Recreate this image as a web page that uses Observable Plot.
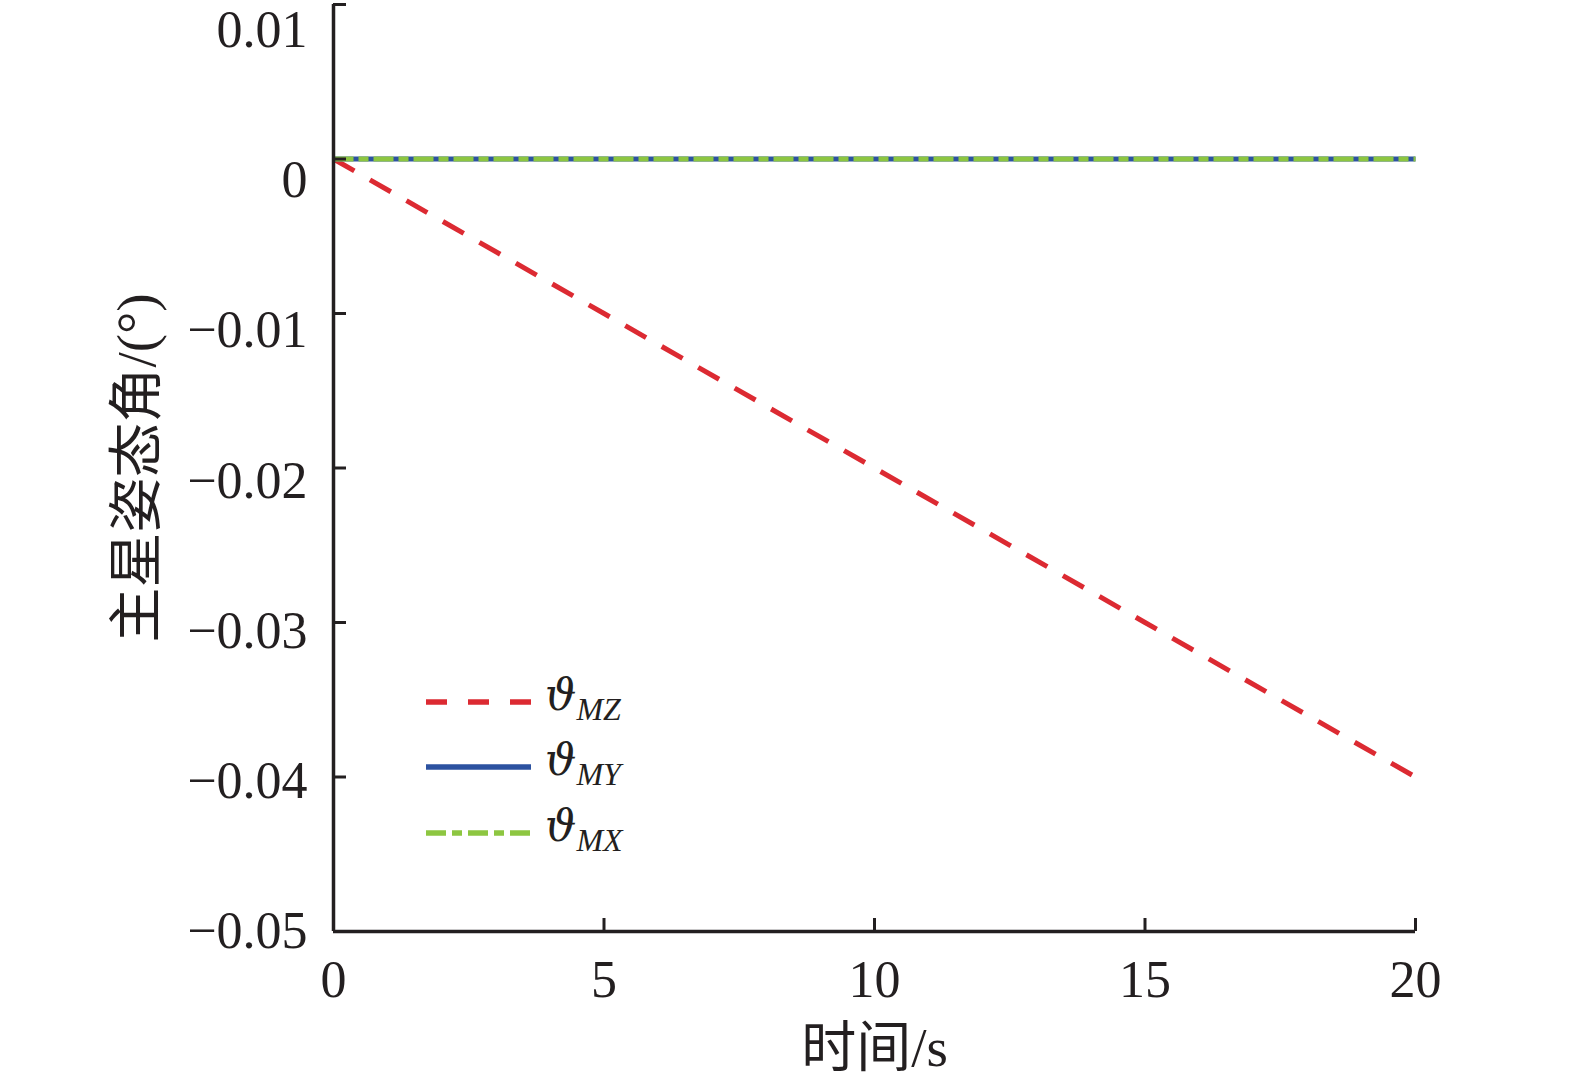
<!DOCTYPE html>
<html>
<head>
<meta charset="utf-8">
<script src="https://cdn.jsdelivr.net/npm/d3@7"></script>
<script src="https://cdn.jsdelivr.net/npm/@observablehq/plot@0.6"></script>
<style>
  html, body { margin: 0; padding: 0; background: #fff; }
  #chart svg { display: block; }
</style>
</head>
<body>
<div id="chart"></div>
<script>
// ---- data ----
const time = [0, 5, 10, 15, 20];
const thetaMZ = [0, -0.01, -0.02, -0.03, -0.04];
const thetaMY = [0, 0, 0, 0, 0];
const thetaMX = [0, 0, 0, 0, 0];
const xTicks = [0, 5, 10, 15, 20];
const yTicks = [0.01, 0, -0.01, -0.02, -0.03, -0.04, -0.05];
const seriesNames = ["MZ", "MY", "MX"];
const xLabel = "时间/s";
const yLabel = "主星姿态角/(°)";

// ---- layout / style ----
const W = 1575, H = 1085;
const mL = 333, mR = 160, mT = 4, mB = 154;
const plotW = W - mL - mR, plotH = H - mT - mB;
const ink = "#231f20";
const colors = { MZ: "#dc2a32", MY: "#2c52a0", MX: "#8dc641" };
const dashes = { MZ: "24,18", MY: null, MX: "20,5,10,5" };
const serif = "'Liberation Serif', 'Times New Roman', serif";
const cjk = "'Liberation Serif', 'Noto Sans CJK SC', serif";
const tickLen = 13;

const rows = (vals) => time.map((t, i) => ({ t, v: vals[i] }));
const series = { MZ: rows(thetaMZ), MY: rows(thetaMY), MX: rows(thetaMX) };

const fmt = d => d === 0 ? "0" : (d < 0 ? "\u2212" : "") + Math.abs(d).toFixed(2);
// tick labels in the original sit slightly more compressed than the ticks
const yDom = [-0.05, 0.01];
const labelSquash = 901 / 927;
const labelY = d => yDom[0] + (d - yDom[0]) * labelSquash;

const chart = Plot.plot({
  width: W, height: H,
  marginLeft: mL, marginRight: mR, marginTop: mT, marginBottom: mB,
  x: { domain: [0, 20], axis: null },
  y: { domain: yDom, axis: null },
  style: { fontFamily: serif, background: "#fff", overflow: "visible" },
  marks: [
    ...seriesNames.map(k => Plot.line(series[k], {
      x: "t", y: "v", stroke: colors[k], strokeWidth: 5,
      strokeDasharray: dashes[k], strokeLinecap: "butt"
    })),
    // axis lines
    Plot.ruleX([0], { stroke: ink, strokeWidth: 3.5 }),
    Plot.ruleY([-0.05], { stroke: ink, strokeWidth: 3.5 }),
    // inward ticks
    Plot.tickY(yTicks, { y: d => d, stroke: ink, strokeWidth: 3, insetRight: plotW - tickLen }),
    Plot.tickX(xTicks, { x: d => d, stroke: ink, strokeWidth: 3, insetTop: plotH - tickLen }),
    // tick labels
    Plot.text(yTicks, {
      y: d => labelY(d), text: d => fmt(d), frameAnchor: "left",
      textAnchor: "end", lineAnchor: "middle", dx: -26,
      fontSize: 52, fill: ink, fontFamily: serif
    }),
    Plot.text(xTicks, {
      x: d => d, text: d => String(d), frameAnchor: "bottom",
      textAnchor: "middle", lineAnchor: "middle", dy: 49,
      fontSize: 52, fill: ink, fontFamily: serif
    }),
    // axis titles
    Plot.text([xLabel], {
      text: d => d, frameAnchor: "bottom", textAnchor: "middle", lineAnchor: "middle", dy: 117,
      fontSize: 55, fill: ink, fontFamily: cjk
    }),
    Plot.text([yLabel], {
      text: d => d, frameAnchor: "left", rotate: -90, textAnchor: "middle", lineAnchor: "middle", dx: -196,
      fontSize: 55, fill: ink, fontFamily: cjk
    })
  ]
});

// ---- legend (inside plot, lower-left) ----
const svg = d3.select(chart);
const lg = svg.append("g").attr("class", "legend").attr("text-anchor", "start");
const legY = [702, 767, 833];
seriesNames.forEach((k, i) => {
  const y = legY[i];
  lg.append("line")
    .attr("x1", 426).attr("x2", 531).attr("y1", y).attr("y2", y)
    .attr("stroke", colors[k]).attr("stroke-width", 5.5)
    .attr("stroke-dasharray", k === "MZ" ? "21,21" : (k === "MX" ? "20,6,10,6" : null));
  const t = lg.append("text")
    .attr("x", 545).attr("y", y + 8)
    .attr("text-anchor", "start")
    .attr("font-style", "italic").attr("fill", ink);
  t.append("tspan").attr("font-family", "'DejaVu Serif', serif").attr("font-size", 44).text("\u03D1");
  t.append("tspan").attr("font-family", serif).attr("dy", 10).attr("font-size", 32).text(k);
});

document.getElementById("chart").appendChild(chart);
</script>
</body>
</html>
